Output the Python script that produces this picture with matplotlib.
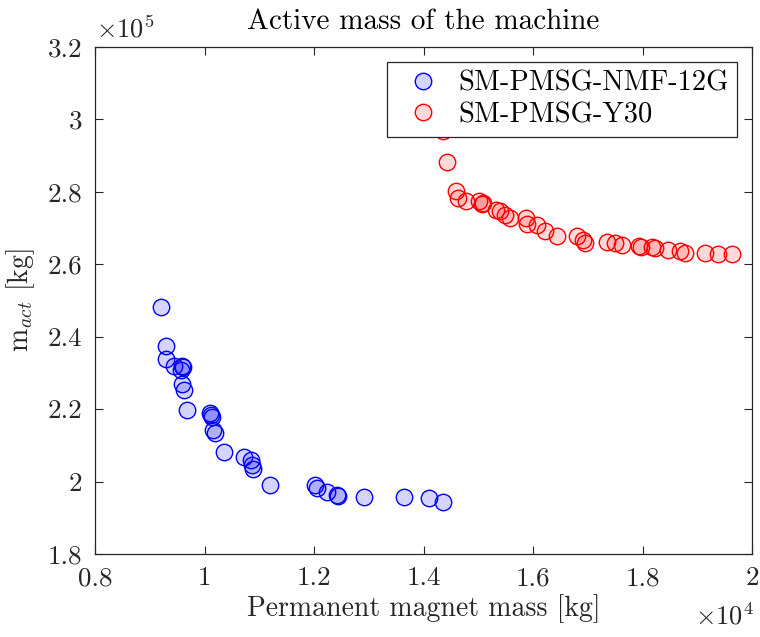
import matplotlib
matplotlib.use("Agg")
import matplotlib.pyplot as plt
from matplotlib.lines import Line2D
import numpy as np

plt.rcParams['font.family'] = 'serif'
plt.rcParams['font.serif'] = ['cmr10', 'DejaVu Serif']
plt.rcParams['mathtext.fontset'] = 'cm'
plt.rcParams['axes.unicode_minus'] = False

# Data (kg)
nmf_pm = [9205, 9291, 9297, 9448, 9584, 9602, 9571, 9584, 9626, 9675,
          10100, 10119, 10143, 10150, 10192, 10362, 10721, 10844, 10862, 10880,
          11191, 12018, 12049, 12232, 12415, 12444, 12919, 13644, 14095, 14351]
nmf_mact = [248120, 237435, 233845, 232000, 231900, 231550, 230810, 226940, 225280, 219760,
            218850, 218380, 217750, 214240, 213490, 208080, 206870, 205960, 204580, 203390,
            199140, 198910, 198140, 197200, 196290, 196020, 195820, 195820, 195380, 194440]

y30_pm = [14356, 14424, 14594, 14636, 14776, 15019, 15063, 15092, 15324, 15397,
          15489, 15580, 15872, 15896, 16068, 16219, 16433, 16798, 16919, 16950,
          17346, 17498, 17620, 17942, 17967, 18168, 18228, 18471, 18685, 18776,
          19142, 19385, 19640]
y30_mact = [296800, 288050, 280040, 278220, 277470, 277280, 276560, 276840, 274990, 274520,
            273610, 272700, 272860, 271040, 270850, 269190, 267620, 267620, 266700, 265790,
            266230, 265790, 265320, 265050, 264690, 264690, 264410, 263940, 263750, 263030,
            263030, 262840, 262760]

series_labels = ['SM-PMSG-NMF-12G', 'SM-PMSG-Y30']

xticks = [8000, 10000, 12000, 14000, 16000, 18000, 20000]
xticklabels = ['0.8', '1', '1.2', '1.4', '1.6', '1.8', '2']
yticks = [180000, 200000, 220000, 240000, 260000, 280000, 300000, 320000]
yticklabels = ['1.8', '2', '2.2', '2.4', '2.6', '2.8', '3', '3.2']

fig = plt.figure(figsize=(7.6, 6.37), dpi=100)
ax = fig.add_axes([0.125, 0.1303, 0.8645, 0.7964])

ms = 140
blue_face = (0, 0, 1, 0.17)
red_face = (1, 0, 0, 0.15)
ax.scatter(nmf_pm, nmf_mact, s=ms, facecolors=blue_face, edgecolors='#0000ff',
           linewidths=1.0, zorder=3)
ax.scatter(y30_pm, y30_mact, s=ms, facecolors=red_face, edgecolors='#ff0000',
           linewidths=1.0, zorder=3)

ax.set_xlim(8000, 20000)
ax.set_ylim(180000, 320000)
ax.set_xticks(xticks)
ax.set_xticklabels(xticklabels)
ax.set_yticks(yticks)
ax.set_yticklabels(yticklabels)
ax.tick_params(direction='in', top=True, right=True, labelsize=19.5, length=6, width=0.8,
               colors='#262626', pad=9)
for sp in ax.spines.values():
    sp.set_linewidth(0.9)
    sp.set_color('#262626')

ax.set_title('Active mass of the machine', fontsize=21, pad=13)
ax.set_xlabel('Permanent magnet mass [kg]', fontsize=20, color='#262626', labelpad=3)
ax.set_ylabel(r'm$_{act}$ [kg]', fontsize=20, color='#262626', labelpad=8)

ax.text(0.002, 1.008, r'$\times10^5$', transform=ax.transAxes, fontsize=19,
        ha='left', va='bottom', color='#262626')
ax.text(1.003, -0.097, r'$\times10^4$', transform=ax.transAxes, fontsize=19,
        ha='right', va='top', color='#262626')

msz = np.sqrt(ms)
handles = [
    Line2D([], [], linestyle='none', marker='o', markersize=msz, markerfacecolor=blue_face,
           markeredgecolor='#0000ff', markeredgewidth=1.0),
    Line2D([], [], linestyle='none', marker='o', markersize=msz, markerfacecolor=red_face,
           markeredgecolor='#ff0000', markeredgewidth=1.0),
]
leg = ax.legend(handles, series_labels, loc='upper right', bbox_to_anchor=(0.977, 0.97),
                fontsize=20.5, frameon=True, fancybox=False, edgecolor='#262626',
                framealpha=1, borderpad=0.3, handlelength=1.93, handletextpad=0.25,
                labelspacing=0.18, borderaxespad=0, numpoints=1)
leg.get_frame().set_linewidth(0.9)
leg.set_zorder(5)

fig.savefig('out.png', dpi=100, facecolor='white')
